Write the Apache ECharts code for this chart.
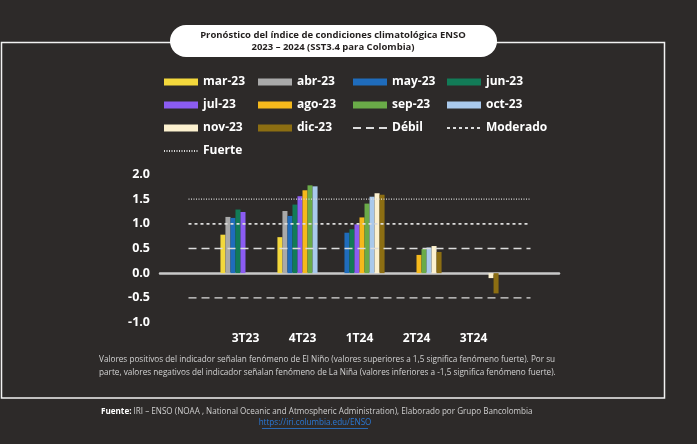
<!DOCTYPE html>
<html>
<head>
<meta charset="utf-8">
<script src="https://cdn.jsdelivr.net/npm/echarts@6/dist/echarts.min.js"></script>
<style>
html,body{margin:0;padding:0;background:#2d2a29;}
#c{width:697px;height:444px;}
</style>
</head>
<body>
<div id="c"></div>
<script>
// ---- data ----
const categories = ['2T23', '3T23', '4T23', '1T24', '2T24', '3T24', '4T24'];
const mar23 = [null, 0.78, 0.73, null, null, null, null];
const abr23 = [null, 1.14, 1.26, null, null, null, null];
const may23 = [null, 1.12, 1.16, 0.82, null, null, null];
const jun23 = [null, 1.29, 1.39, 0.89, null, null, null];
const jul23 = [null, 1.24, 1.56, 0.99, null, null, null];
const ago23 = [null, null, 1.68, 1.13, 0.37, null, null];
const sep23 = [null, null, 1.78, 1.41, 0.49, null, null];
const oct23 = [null, null, 1.76, 1.55, 0.52, null, null];
const nov23 = [null, null, null, 1.62, 0.55, -0.10, null];
const dic23 = [null, null, null, 1.59, 0.43, -0.41, null];
const debilPos = [0.5, 0.5, 0.5, 0.5, 0.5, 0.5, 0.5];
const debilNeg = [-0.5, -0.5, -0.5, -0.5, -0.5, -0.5, -0.5];
const moderado = [1.0, 1.0, 1.0, 1.0, 1.0, 1.0, 1.0];
const fuerte = [1.5, 1.5, 1.5, 1.5, 1.5, 1.5, 1.5];
const yMin = -1.0, yMax = 2.0, yStep = 0.5;

const barSeriesDefs = [
  ['mar-23', mar23, '#f3d83c'],
  ['abr-23', abr23, '#a9a9a9'],
  ['may-23', may23, '#1f6cbc'],
  ['jun-23', jun23, '#127b57'],
  ['jul-23', jul23, '#8b5cf2'],
  ['ago-23', ago23, '#f5b91c'],
  ['sep-23', sep23, '#6aab48'],
  ['oct-23', oct23, '#a9c9ec'],
  ['nov-23', nov23, '#fcf1cf'],
  ['dic-23', dic23, '#8c6e12']
];

const font = '"Open Sans", "Noto Sans", sans-serif';
const lineColor = '#dcdcdc';
const lineNames = ['Débil', 'Moderado', 'Fuerte'];

const hasData = categories.map((c, i) => barSeriesDefs.some(d => d[1][i] !== null));

const series = barSeriesDefs.map(d => ({
  name: d[0], type: 'bar', data: d[1], xAxisIndex: 0,
  itemStyle: { color: d[2] },
  barGap: '0%', barCategoryGap: '12%'
}));
const lineDefs = [
  ['Débil', debilPos, [8, 5], 1.4],
  ['Débil', debilNeg, [8, 5], 1.4],
  ['Moderado', moderado, [3, 3], 1.6],
  ['Fuerte', fuerte, [1, 1.5], 1.1]
];
lineDefs.forEach(d => series.push({
  name: d[0], type: 'line', data: d[1], xAxisIndex: 0,
  symbol: 'none', showSymbol: false, silent: true,
  lineStyle: { color: lineColor, type: d[2], width: d[3] },
  itemStyle: { color: lineColor },
  z: 5
}));

function legendCol(left, names) {
  return {
    orient: 'vertical', left: left, top: 75, padding: 0,
    itemWidth: 34, itemHeight: 7, itemGap: 9,
    textStyle: { color: '#ffffff', fontWeight: 'bold', fontSize: 12, fontFamily: font, lineHeight: 14 },
    data: names.map(n => (lineNames.includes(n)
      ? { name: n, itemStyle: { opacity: 0 } }
      : { name: n, icon: 'rect' }))
  };
}

const chart = echarts.init(document.getElementById('c'));
chart.setOption({
  backgroundColor: '#2d2a29',
  animation: false,
  textStyle: { fontFamily: font },
  legend: [
    legendCol(163, ['mar-23', 'jul-23', 'nov-23', 'Fuerte']),
    legendCol(258, ['abr-23', 'ago-23', 'dic-23']),
    legendCol(352, ['may-23', 'sep-23', 'Débil']),
    legendCol(446, ['jun-23', 'oct-23', 'Moderado'])
  ],
  grid: { left: 160, right: 138, top: 174.5, bottom: 121.5, containLabel: false },
  xAxis: [
    {
      type: 'category', data: categories, position: 'bottom',
      axisLine: { show: true, onZero: true, lineStyle: { color: '#c9c9c9', width: 2.5 } },
      axisTick: { show: false },
      axisLabel: { show: false }
    },
    {
      type: 'category', data: categories, position: 'bottom',
      axisLine: { show: false, onZero: false },
      axisTick: { show: false },
      axisLabel: {
        color: '#ffffff', fontWeight: 'bold', fontSize: 12, fontFamily: font, margin: 10,
        interval: (i) => hasData[i]
      }
    }
  ],
  yAxis: {
    type: 'value', min: yMin, max: yMax, interval: yStep,
    splitLine: { show: false },
    axisLine: { show: false }, axisTick: { show: false },
    axisLabel: {
      color: '#ffffff', fontWeight: 'bold', fontSize: 12.5, fontFamily: font, margin: 10,
      formatter: v => v.toFixed(1)
    }
  },
  series: series,
  graphic: [
    { type: 'rect', shape: { x: 1.5, y: 42.5, width: 663, height: 355.5 },
      style: { fill: 'none', stroke: '#f2f2f2', lineWidth: 1.5 }, z: 1 },
    { type: 'rect', shape: { x: 170, y: 25, width: 327, height: 32, r: 16 },
      style: { fill: '#ffffff' }, z: 2 },
    { type: 'text', x: 333, y: 41, z: 3,
      style: { text: 'Pronóstico del índice de condiciones climatológica ENSO\n2023 – 2024 (SST3.4 para Colombia)',
        align: 'center', verticalAlign: 'middle', fill: '#231f1e', font: 'bold 9.5px ' + font, lineHeight: 12 } },
    { type: 'text', x: 99, y: 366, z: 3,
      style: { text: 'Valores positivos del indicador señalan fenómeno de El Niño (valores superiores a 1,5 significa fenómeno fuerte). Por su\nparte, valores negativos del indicador señalan fenómeno de La Niña (valores inferiores a -1,5 significa fenómeno fuerte).',
        align: 'left', verticalAlign: 'middle', fill: '#d2d2d2', font: '8.2px ' + font, lineHeight: 13.5 } },
    { type: 'text', x: 101, y: 412, z: 3,
      style: { text: '{b|Fuente:} IRI – ENSO (NOAA , National Oceanic and Atmospheric Administration), Elaborado por Grupo Bancolombia',
        align: 'left', verticalAlign: 'middle', fill: '#cfcfcf', font: '8.1px ' + font,
        rich: { b: { fill: '#ffffff', font: 'bold 8.1px ' + font } } } },
    { type: 'text', x: 315, y: 423, z: 3,
      style: { text: 'https://iri.columbia.edu/ENSO', align: 'center', verticalAlign: 'middle',
        fill: '#2a78d6', font: '8.1px ' + font } },
    { type: 'line', shape: { x1: 262, y1: 428.5, x2: 368, y2: 428.5 },
      style: { stroke: '#2a78d6', lineWidth: 0.8 }, z: 3 }
  ]
});
</script>
</body>
</html>
